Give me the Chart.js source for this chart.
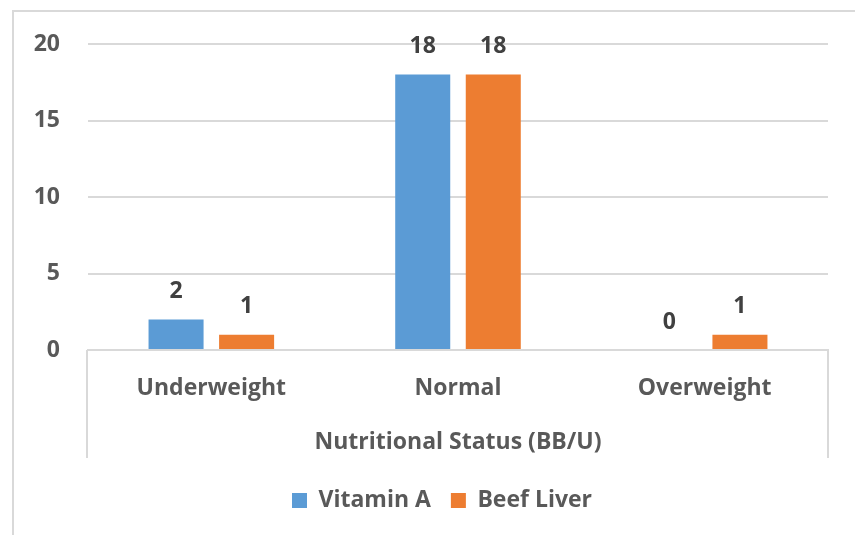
<!DOCTYPE html>
<html>
<head>
<meta charset="utf-8">
<script src="https://cdn.jsdelivr.net/npm/chart.js@4"></script>
<style>
  html, body { margin: 0; padding: 0; background: #fff; }
  #wrap { width: 855px; height: 535px; }
</style>
</head>
<body>
<div id="wrap"><canvas id="statusChart" width="855" height="535"></canvas></div>
<script>
// Data
const categories = ['Underweight', 'Normal', 'Overweight'];
const vitaminA = [2, 18, 0];
const beefLiver = [1, 18, 1];
const seriesNames = ['Vitamin A', 'Beef Liver'];
const axisTitle = 'Nutritional Status (BB/U)';

const FONT = '"Open Sans", sans-serif';
const GRAY = '#595959';
const GRID = '#d9d9d9';

// frame lines, legend nudge and value labels
const extras = {
  id: 'extras',
  afterLayout(chart) {
    // legend sits a bit right of centre in the original
    chart.legend.left += 28;
    chart.legend.right += 28;
  },
  beforeDraw(chart) {
    const ctx = chart.ctx;
    const area = chart.chartArea;
    ctx.save();
    ctx.strokeStyle = GRID;
    ctx.lineWidth = 2;
    // outer border (top + left visible)
    ctx.beginPath();
    ctx.moveTo(855, 11);
    ctx.lineTo(13, 11);
    ctx.lineTo(13, 535);
    ctx.stroke();
    // category axis box sides
    ctx.beginPath();
    ctx.moveTo(area.left - 1, area.bottom);
    ctx.lineTo(area.left - 1, 458);
    ctx.moveTo(area.right, area.bottom);
    ctx.lineTo(area.right, 458);
    ctx.stroke();
    ctx.restore();
  },
  afterDatasetsDraw(chart) {
    const ctx = chart.ctx;
    ctx.save();
    ctx.font = 'bold 23px ' + FONT;
    ctx.fillStyle = '#404040';
    ctx.textAlign = 'center';
    ctx.textBaseline = 'middle';
    chart.data.datasets.forEach((ds, i) => {
      chart.getDatasetMeta(i).data.forEach((bar, j) => {
        ctx.fillText(String(ds.data[j]), bar.x, bar.y - 28);
      });
    });
    ctx.restore();
  }
};

const tickFont = { family: FONT, size: 23, weight: 'bold' };

new Chart(document.getElementById('statusChart'), {
  type: 'bar',
  data: {
    labels: categories,
    datasets: [
      { label: seriesNames[0], data: vitaminA, backgroundColor: '#5B9BD5' },
      { label: seriesNames[1], data: beefLiver, backgroundColor: '#ED7D31' }
    ]
  },
  options: {
    responsive: false,
    animation: false,
    devicePixelRatio: 1,
    layout: { padding: { top: 44, right: 27, left: 0, bottom: 13 } },
    datasets: { bar: { categoryPercentage: 0.572, barPercentage: 0.78 } },
    scales: {
      x: {
        grid: { display: false, drawTicks: false },
        border: { color: GRID, width: 2 },
        ticks: { color: GRAY, font: tickFont, padding: 25 },
        title: {
          display: true,
          text: axisTitle,
          color: GRAY,
          font: tickFont,
          padding: { top: 0, bottom: 13 }
        },
        afterFit(scale) { scale.height = 119; }
      },
      y: {
        min: 0,
        max: 20,
        ticks: { stepSize: 5, color: GRAY, font: tickFont, padding: 28 },
        grid: { color: GRID, lineWidth: 2, drawTicks: false },
        border: { display: false },
        afterFit(scale) { scale.width = 88; }
      }
    },
    plugins: {
      legend: {
        position: 'bottom',
        labels: {
          color: GRAY,
          font: tickFont,
          boxWidth: 15,
          boxHeight: 15,
          padding: 20
        }
      },
      tooltip: { enabled: false }
    }
  },
  plugins: [extras]
});
</script>
</body>
</html>
